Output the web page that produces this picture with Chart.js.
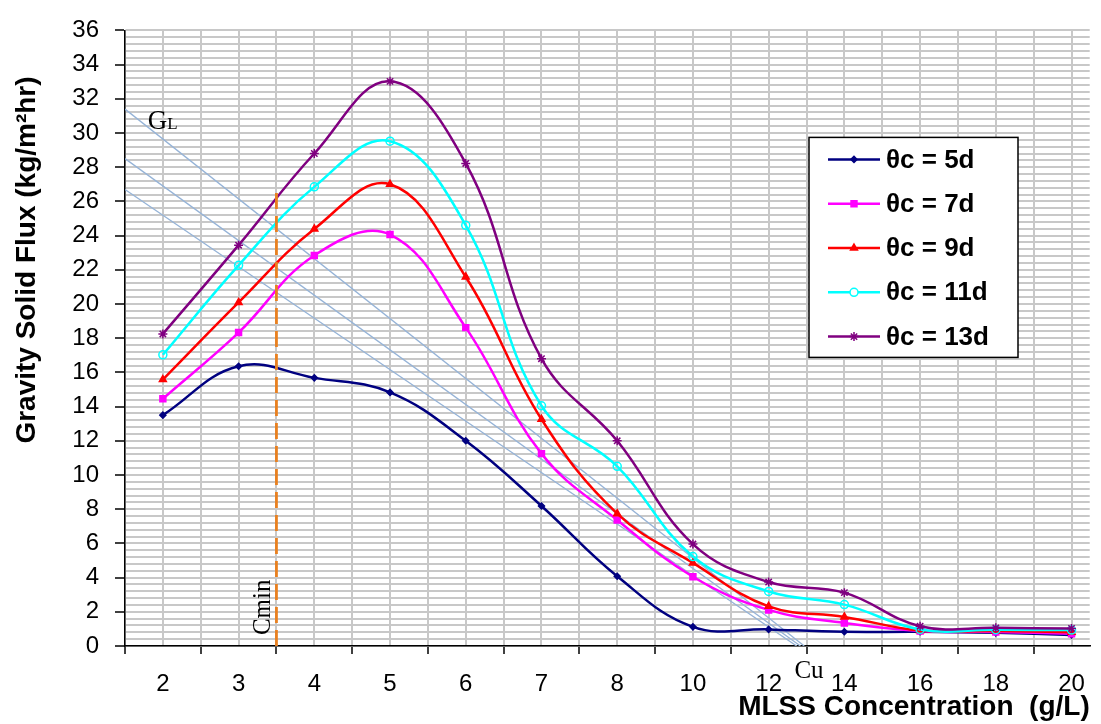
<!DOCTYPE html>
<html lang="en">
<head>
    <meta charset="UTF-8">
    <title>Gravity Solid Flux</title>
    <script src="https://cdn.jsdelivr.net/npm/chart.js@4.4.1/dist/chart.umd.min.js"></script>
    <style>
        html, body { margin: 0; padding: 0; background: #fff; overflow: hidden; }
        #wrap { width: 1101px; height: 724px; position: relative; }
    </style>
</head>
<body>
    <div id="wrap"><canvas id="fluxChart"></canvas></div>

    <script>
        // MLSS concentration categories (g/L), equally spaced on the axis
        const mlss = ['2', '3', '4', '5', '6', '7', '8', '10', '12', '14', '16', '18', '20'];

        // gravity solid flux (kg/m2hr) per sludge age
        const flux5d  = [13.5, 16.36, 15.68, 14.83, 12.0, 8.19, 4.08, 1.12, 0.97, 0.83, 0.83, 0.77, 0.64];
        const flux7d  = [14.46, 18.33, 22.84, 24.06, 18.62, 11.25, 7.37, 4.05, 2.11, 1.35, 0.88, 0.82, 0.72];
        const flux9d  = [15.58, 20.09, 24.39, 27.0, 21.58, 13.26, 7.74, 4.86, 2.32, 1.70, 0.9, 0.88, 0.8];
        const flux11d = [17.03, 22.26, 26.85, 29.52, 24.6, 14.05, 10.51, 5.23, 3.19, 2.42, 0.97, 0.95, 0.93];
        const flux13d = [18.25, 23.44, 28.8, 33.02, 28.22, 16.8, 12.0, 5.96, 3.74, 3.12, 1.16, 1.06, 1.03];

        const seriesNames = ['θc = 5d', 'θc = 7d', 'θc = 9d', 'θc = 11d', 'θc = 13d'];
        const seriesValues = [flux5d, flux7d, flux9d, flux11d, flux13d];

        // GL operating lines: flux at left edge, axis position where they reach 0 (Cu)
        const glStart = [31.4, 28.5, 26.7];
        const glEnd = [8.47, 8.42, 8.37];

        // Cmin marker (axis position between 3 and 4 g/L) and its top
        const cminPos = 1.5;
        const cminTop = 26.9;

        const yTicks = { min: 0, max: 36, major: 2, minor: 0.4 };

        // styles
        const seriesColors = ['#000080', '#FF00FF', '#FF0000', '#00FFFF', '#800080'];
        const seriesPoints = ['rectRot', 'rect', 'triangle', 'circle', 'star'];
        const pointSizes = [3, 4.2, 4, 4, 4.5];
        const FONT = '"Liberation Sans", Arial, sans-serif';
        const SERIF = '"Liberation Serif", "Times New Roman", serif';

        Chart.defaults.font.family = FONT;
        Chart.defaults.color = '#000';

        function isMajor(v) {
            return Math.abs(v / yTicks.major - Math.round(v / yTicks.major)) < 1e-6;
        }

        const datasets = seriesValues.map((vals, i) => ({
            label: seriesNames[i],
            data: vals.map((v, k) => ({ x: k, y: v })),
            borderColor: seriesColors[i],
            backgroundColor: i === 3 ? 'rgba(255,255,255,0)' : seriesColors[i],
            pointStyle: seriesPoints[i],
            pointRadius: pointSizes[i],
            pointBorderWidth: 1.5,
            borderWidth: 2.5,
            tension: 0.4,
            order: -i
        }));

        glStart.forEach((y0, i) => {
            datasets.push({
                label: 'GL',
                data: [{ x: -0.5, y: y0 }, { x: glEnd[i], y: 0 }],
                borderColor: '#95B3D7',
                borderWidth: 1.3,
                pointRadius: 0,
                tension: 0,
                order: 10
            });
        });

        datasets.push({
            label: 'Cmin',
            data: [{ x: cminPos, y: 0 }, { x: cminPos, y: cminTop }],
            borderColor: '#E9801F',
            borderWidth: 2.8,
            borderDash: [16, 7],
            pointRadius: 0,
            order: -10
        });

        // text notes: GL, Cmin, Cu and the rotated y title
        const notes = {
            id: 'notes',
            afterDatasetsDraw(chart) {
                const { ctx, scales: { x, y } } = chart;
                ctx.save();
                ctx.fillStyle = '#000';
                ctx.textBaseline = 'alphabetic';
                ctx.textAlign = 'left';

                let px = x.getPixelForValue(-0.2);
                let py = y.getPixelForValue(30.25);
                ctx.font = '27px ' + SERIF;
                ctx.fillText('G', px, py);
                const gw = ctx.measureText('G').width;
                ctx.font = '17px ' + SERIF;
                ctx.fillText('L', px + gw, py);

                px = x.getPixelForValue(1.41);
                py = y.getPixelForValue(0.64);
                ctx.save();
                ctx.translate(px, py);
                ctx.rotate(-Math.PI / 2);
                ctx.font = '25px ' + SERIF;
                ctx.fillText('Cmin', 0, 0);
                ctx.restore();

                px = x.getPixelForValue(8.34);
                py = y.getPixelForValue(-1.86);
                ctx.font = '25px ' + SERIF;
                ctx.fillText('Cu', px, py);

                ctx.save();
                ctx.translate(27, 260);
                ctx.rotate(-Math.PI / 2);
                ctx.textAlign = 'center';
                ctx.textBaseline = 'middle';
                ctx.font = 'bold 28px ' + FONT;
                ctx.fillText('Gravity Solid Flux (kg/m²hr)', 0, 0);
                ctx.restore();

                ctx.restore();
            }
        };

        // boxed legend inside the plot
        const legendBox = {
            id: 'legendBox',
            afterDraw(chart) {
                const { ctx, chartArea } = chart;
                const left = chartArea.left + 684;
                const top = chartArea.top + 107;
                const w = 209, h = 220;
                ctx.save();
                ctx.fillStyle = '#fff';
                ctx.fillRect(left, top, w, h);
                ctx.strokeStyle = '#000';
                ctx.lineWidth = 1.5;
                ctx.strokeRect(left, top, w, h);

                seriesNames.forEach((name, i) => {
                    const cy = top + 22 + i * 44.3;
                    ctx.strokeStyle = seriesColors[i];
                    ctx.lineWidth = 2.5;
                    ctx.beginPath();
                    ctx.moveTo(left + 19, cy);
                    ctx.lineTo(left + 71, cy);
                    ctx.stroke();

                    ctx.fillStyle = i === 3 ? '#fff' : seriesColors[i];
                    ctx.lineWidth = 1.5;
                    Chart.helpers.drawPoint(ctx, {
                        pointStyle: seriesPoints[i],
                        radius: pointSizes[i],
                        borderWidth: 1.5,
                        rotation: 0
                    }, left + 45, cy);

                    ctx.fillStyle = '#000';
                    ctx.font = 'bold 26px ' + FONT;
                    ctx.textBaseline = 'middle';
                    ctx.textAlign = 'left';
                    ctx.fillText(name, left + 77, cy + 1);
                });
                ctx.restore();
            }
        };

        const ctx = document.getElementById('fluxChart').getContext('2d');
        new Chart(ctx, {
            type: 'line',
            data: { datasets: datasets },
            plugins: [notes, legendBox],
            options: {
                responsive: true,
                maintainAspectRatio: false,
                animation: false,
                layout: { padding: { top: 26, right: 0, left: 0, bottom: 0 } },
                plugins: {
                    legend: { display: false },
                    tooltip: { enabled: false }
                },
                scales: {
                    x: {
                        type: 'linear',
                        min: -0.5,
                        max: 12.24,
                        afterBuildTicks(scale) {
                            const t = [];
                            for (let i = 0; i <= 25; i++) t.push({ value: i / 2 - 0.5 });
                            scale.ticks = t;
                        },
                        afterFit(scale) { scale.height = 78; },
                        ticks: {
                            autoSkip: false,
                            maxRotation: 0,
                            padding: 16,
                            font: { size: 24 },
                            color: '#000',
                            callback(v) { return Number.isInteger(v) ? mlss[v] : ''; }
                        },
                        grid: {
                            color: '#c8c8c8',
                            lineWidth: 2,
                            tickLength: 8,
                            tickWidth: 1.5,
                            tickColor: c => Number.isInteger(c.tick.value) ? 'rgba(0,0,0,0)' : '#000'
                        },
                        border: { color: '#000', width: 1.5 },
                        title: {
                            display: true,
                            text: 'MLSS Concentration  (g/L)',
                            align: 'end',
                            color: '#000',
                            font: { size: 28, weight: 'bold' },
                            padding: { top: 0, bottom: 0 }
                        }
                    },
                    y: {
                        min: yTicks.min,
                        max: yTicks.max,
                        afterFit(scale) { scale.width = 125; },
                        ticks: {
                            stepSize: yTicks.minor,
                            autoSkip: false,
                            padding: 16,
                            font: { size: 24 },
                            color: '#000',
                            callback(v) { return isMajor(v) ? String(Math.round(v)) : ''; }
                        },
                        grid: {
                            color: '#c8c8c8',
                            lineWidth: 2,
                            tickLength: 10,
                            tickWidth: 1.5,
                            tickColor: c => isMajor(c.tick.value) ? '#000' : 'rgba(0,0,0,0)'
                        },
                        border: { color: '#000', width: 1.5 }
                    }
                }
            }
        });
    </script>
</body>
</html>
